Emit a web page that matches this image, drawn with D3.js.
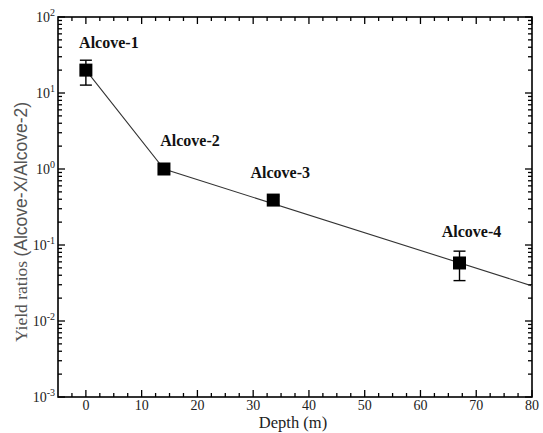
<!DOCTYPE html>
<html><head><meta charset="utf-8">
<script src="https://cdn.jsdelivr.net/npm/d3@7"></script>
<style>body{margin:0;background:#fff}svg{display:block}</style>
</head><body><svg id="c" width="543" height="433"></svg>
<script>
const names = ["Alcove-1","Alcove-2","Alcove-3","Alcove-4"];
const depth = [0, 14, 33.6, 67];
const ratio = [20, 1, 0.39, 0.058];
const errLow = [12.7, null, 0.34, 0.034];
const errHigh = [27, null, 0.44, 0.083];
const fitDepth = [0, 14, 80];
const fitRatio = [20, 1, 0.029];
const xTicks = [0,10,20,30,40,50,60,70,80];
const yExp = [-3,-2,-1,0,1,2];

const svg = d3.select("#c");
const m = {l:58, t:17, r:532, b:397};
const x = d3.scaleLinear().domain([-5,80]).range([m.l,m.r]);
const y = d3.scaleLog().domain([1e-3,1e2]).range([m.b,m.t]);
const serif = "Liberation Serif, DejaVu Serif, Times New Roman, serif";
const sans = "Liberation Sans, Arial, sans-serif";

const xMinor = d3.range(-2.5, 80, 2.5).filter(v => !xTicks.includes(v));
const yMinor = [];
for (let e=-3;e<2;e++) for (let k=2;k<10;k++) yMinor.push(k*Math.pow(10,e));

const g = svg.append("g").attr("stroke","#000").attr("stroke-width",1.3);
xTicks.forEach(v=>{
  g.append("line").attr("x1",x(v)).attr("x2",x(v)).attr("y1",m.b).attr("y2",m.b-7);
  g.append("line").attr("x1",x(v)).attr("x2",x(v)).attr("y1",m.t).attr("y2",m.t+7);
});
xMinor.forEach(v=>{
  g.append("line").attr("x1",x(v)).attr("x2",x(v)).attr("y1",m.b).attr("y2",m.b-4);
  g.append("line").attr("x1",x(v)).attr("x2",x(v)).attr("y1",m.t).attr("y2",m.t+4);
});
yExp.forEach(e=>{
  const v=Math.pow(10,e);
  g.append("line").attr("x1",m.l).attr("x2",m.l+7).attr("y1",y(v)).attr("y2",y(v));
  g.append("line").attr("x1",m.r).attr("x2",m.r-7).attr("y1",y(v)).attr("y2",y(v));
});
yMinor.forEach(v=>{
  g.append("line").attr("x1",m.l).attr("x2",m.l+4).attr("y1",y(v)).attr("y2",y(v));
  g.append("line").attr("x1",m.r).attr("x2",m.r-4).attr("y1",y(v)).attr("y2",y(v));
});
svg.append("rect").attr("x",m.l).attr("y",m.t).attr("width",m.r-m.l).attr("height",m.b-m.t)
  .attr("fill","none").attr("stroke","#000").attr("stroke-width",1.6);

xTicks.forEach(v=>{
  svg.append("text").attr("x",x(v)).attr("y",m.b+13).attr("text-anchor","middle")
    .style("font-family",serif).attr("font-size",14).attr("fill","#222").text(v);
});
yExp.forEach(e=>{
  const t = svg.append("text").attr("x",m.l-3).attr("y",y(Math.pow(10,e))+5).attr("text-anchor","end")
    .style("font-family",serif).attr("font-size",14).attr("fill","#222");
  t.append("tspan").text("10");
  t.append("tspan").attr("dy",-6).attr("font-size",10).text(e);
});

svg.append("text").attr("x",293).attr("y",428).attr("text-anchor","middle")
  .style("font-family",serif).attr("font-size",16.5).attr("fill","#222").text("Depth (m)");
const yt = svg.append("text").attr("transform",`translate(27,222) rotate(-90)`).attr("text-anchor","middle")
  .attr("font-size",17.5).attr("fill","#555");
yt.append("tspan").style("font-family",serif).text("Yield ratios ");
yt.append("tspan").style("font-family",sans).text("(Alcove-X/Alcove-2)");

svg.append("clipPath").attr("id","pc").append("rect").attr("x",m.l).attr("y",m.t).attr("width",m.r-m.l).attr("height",m.b-m.t);
svg.append("path").attr("clip-path","url(#pc)")
  .attr("d", d3.line().x((d,i)=>x(fitDepth[i])).y((d,i)=>y(fitRatio[i]))(fitDepth))
  .attr("fill","none").attr("stroke","#333").attr("stroke-width",1.1);

depth.forEach((d,i)=>{
  if (errLow[i]==null) return;
  const eg = svg.append("g").attr("stroke","#000").attr("stroke-width",1.4);
  eg.append("line").attr("x1",x(d)).attr("x2",x(d)).attr("y1",y(errLow[i])).attr("y2",y(errHigh[i]));
  [errLow[i],errHigh[i]].forEach(v=>eg.append("line").attr("x1",x(d)-6).attr("x2",x(d)+6).attr("y1",y(v)).attr("y2",y(v)));
});
const s=13;
depth.forEach((d,i)=>{
  svg.append("rect").attr("x",x(d)-s/2).attr("y",y(ratio[i])-s/2).attr("width",s).attr("height",s).attr("fill","#000");
});
const ldx=[23,26,7,12], ldy=[-22,-23,-22,-26];
names.forEach((n,i)=>{
  svg.append("text").attr("x",x(depth[i])+ldx[i]).attr("y",y(ratio[i])+ldy[i]).attr("text-anchor","middle")
    .style("font-family",serif).attr("font-weight","bold").attr("font-size",16).attr("fill","#111").text(n);
});
</script></body></html>
